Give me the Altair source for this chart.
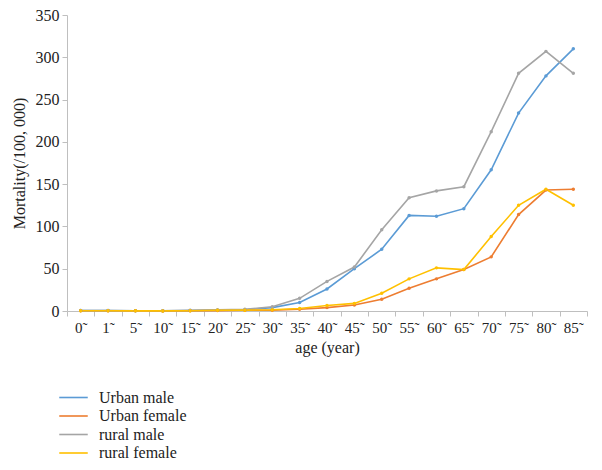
import altair as alt
import pandas as pd

ages = ["0˜", "1˜", "5˜", "10˜", "15˜", "20˜", "25˜", "30˜", "35˜",
        "40˜", "45˜", "50˜", "55˜", "60˜", "65˜", "70˜", "75˜", "80˜", "85˜"]

urban_male = [0.5, 0.5, 0.3, 0.2, 0.5, 1.0, 1.5, 4, 10, 26, 50, 73, 113, 112, 121, 167, 234, 278, 310]
urban_female = [0.3, 0.3, 0.2, 0.1, 0.3, 0.5, 0.8, 1, 2, 4, 7, 14, 27, 38, 49, 64, 114, 143, 144]
rural_male = [0.5, 0.5, 0.3, 0.3, 0.8, 1.5, 2, 5, 15, 35, 52, 96, 134, 142, 147, 212, 281, 307, 281]
rural_female = [0.3, 0.3, 0.2, 0.1, 0.3, 0.8, 1, 1.5, 3, 6.5, 9, 21, 38, 51, 49, 88, 125, 144, 125]

series = ["Urban male", "Urban female", "rural male", "rural female"]
colors = ["#5B9BD5", "#ED7D31", "#A5A5A5", "#FFC000"]

rows = []
for name, vals in zip(series, [urban_male, urban_female, rural_male, rural_female]):
    for a, v in zip(ages, vals):
        rows.append({"age": a, "value": v, "series": name})
df = pd.DataFrame(rows)

font = "Times New Roman"

chart = alt.Chart(df).mark_line(
    strokeWidth=1.6,
    point=alt.OverlayMarkDef(filled=True, size=12),
).encode(
    x=alt.X("age:N", sort=ages, bandPosition=0.5,
            scale=alt.Scale(type="band", paddingInner=0, paddingOuter=0),
            axis=alt.Axis(title="age (year)", labelAngle=0, tickBand="extent",
                          labelFontSize=15, labelPadding=4, titlePadding=4)),
    y=alt.Y("value:Q", scale=alt.Scale(domain=[0, 350]),
            axis=alt.Axis(title="Mortality(/100, 000)", values=list(range(0, 351, 50)),
                          grid=False, labelFontSize=16, labelPadding=3, titlePadding=8)),
    color=alt.Color("series:N", sort=series,
                    scale=alt.Scale(domain=series, range=colors),
                    legend=alt.Legend(title=None, orient="none", legendX=-2, legendY=374,
                                      symbolType="M-1.9,0H1.9", symbolSize=225,
                                      symbolStrokeWidth=1.6,
                                      labelFontSize=16, labelColor="#222",
                                      rowPadding=1.5, labelOffset=17)),
).properties(
    width=520, height=296,
    autosize=alt.AutoSizeParams(type="none"),
    padding={"left": 59, "top": 7, "right": 7, "bottom": 158},
).configure(font=font).configure_axis(
    labelFont=font, titleFont=font, labelColor="#222", titleColor="#222",
    titleFontSize=16, titleFontWeight="normal",
    domainColor="#BFBFBF", tickColor="#BFBFBF", tickSize=5,
).configure_legend(labelFont=font).configure_view(stroke=None)

chart.save("out.html", embed_options={"renderer": "svg", "actions": False})
